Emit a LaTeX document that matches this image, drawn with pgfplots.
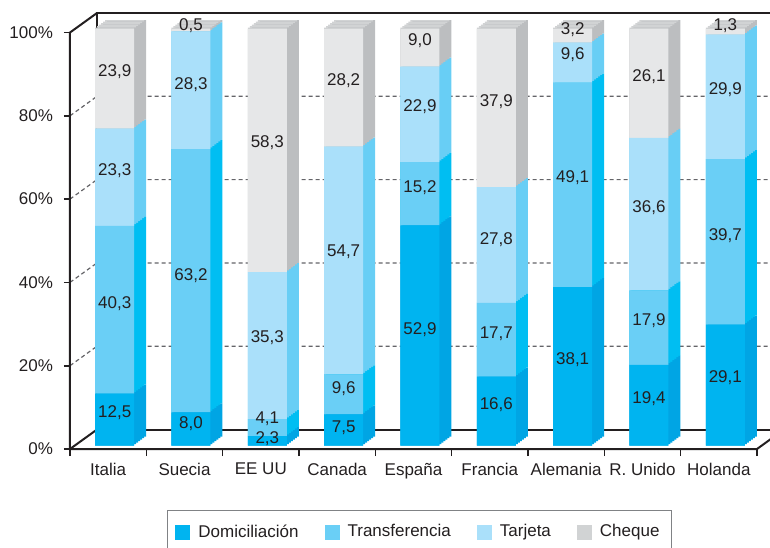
\documentclass[border=0pt]{standalone}
\usepackage{pgfplots}
\usepackage{pgfplotstable}
\pgfplotsset{compat=1.18}
\usepackage{fontspec}
\setmainfont{Liberation Sans}

\definecolor{domF}{RGB}{0,180,240}
\definecolor{domS}{RGB}{0,165,228}
\definecolor{traF}{RGB}{106,207,246}
\definecolor{traS}{RGB}{0,190,242}
\definecolor{tarF}{RGB}{170,224,250}
\definecolor{tarS}{RGB}{104,206,245}
\definecolor{cheF}{RGB}{230,231,232}
\definecolor{cheS}{RGB}{188,190,192}
\definecolor{cheT}{RGB}{209,211,212}
\definecolor{ink}{RGB}{35,31,32}
\definecolor{gridc}{RGB}{100,100,104}
\definecolor{legc}{RGB}{128,130,133}

% shares per country (%)
\pgfplotstableread{
x dom tra tar che
0 12.5 40.3 23.3 23.9
1 8.0 63.2 28.3 0.5
2 2.3 4.1 35.3 58.3
3 7.5 9.6 54.7 28.2
4 52.9 15.2 22.9 9.0
5 16.6 17.7 27.8 37.9
6 38.1 49.1 9.6 3.2
7 19.4 17.9 36.6 26.1
8 29.1 39.7 29.9 1.3
}\data

% label positions as printed in the chart
\pgfplotstableread{
x y lab
0 90.04 23,9
0 66.36 23,3
0 34.43 40,3
0 8.33 12,5
1 101.25 0,5
1 87.01 28,3
1 41.15 63,2
1 5.62 8,0
2 72.99 58,3
2 26.17 35,3
2 6.72 4,1
2 1.92 2,3
3 87.97 28,2
3 46.99 54,7
3 13.93 9,6
3 4.73 7,5
4 97.58 9,0
4 81.80 22,9
4 62.35 15,2
4 28.19 52,9
5 82.83 37,9
5 49.80 27,8
5 27.23 17,7
5 10.18 16,6
6 100.22 3,2
6 94.21 9,6
6 64.75 49,1
6 20.98 38,1
7 88.93 26,1
7 57.55 36,6
7 30.35 17,9
7 11.62 19,4
8 101.25 1,3
8 85.81 29,9
8 50.83 39,7
8 16.57 29,1
}\labels

\pgfplotsset{
  base/.style={scale only axis, width=343.5pt, height=208.25pt,
    xmin=-0.5, xmax=8.5, ymin=0, ymax=100, enlargelimits=false,
    clip=false, anchor=south west},
  bars/.style={base, hide axis, ybar stacked, bar width=19.5pt},
}

\begin{document}
\begin{tikzpicture}[font=\fontsize{8.5}{10}\selectfont]
% ---------- frame, ticks, legend ----------
\begin{axis}[base, at={(0pt,0pt)},
  axis line style={draw=none},
  xtick={0,...,8},
  xticklabels={Italia,Suecia,EE UU,Canada,España,Francia,Alemania,R. Unido,Holanda},
  minor xtick={-0.5,0.5,...,8.5},
  ytick={0,20,...,100},
  yticklabel={\pgfmathprintnumber{\tick}\%},
  xtick pos=bottom, ytick pos=left,
  tick align=outside,
  major tick length=3pt, minor tick length=3.5pt,
  every tick/.append style={ink, line width=0.8pt},
  every major x tick/.append style={draw=none},
  /pgf/number format/assume math mode=true,
  tick label style={font=\fontsize{8.5}{10}\selectfont, text=ink},
  yticklabel style={xshift=-2pt},
  xticklabel style={yshift=-0.5pt},
  legend columns=4,
  legend cell align=left,
  legend style={at={(0.5087,-0.1465)}, anchor=north, draw=legc, line width=0.5pt,
     inner xsep=4pt, inner ysep=5pt, font=\fontsize{8.5}{10}\selectfont, text=ink,
     /tikz/every odd column/.append style={column sep=2pt},
     /tikz/every even column/.append style={column sep=11pt}},
  legend image code/.code={\fill[#1, draw=none] (0pt,-3.75pt) rectangle (7.5pt,3.75pt);},
]
\draw[gridc, line width=0.6pt, dash pattern=on 2pt off 1.5pt] (axis cs:-0.5,20) -- (axis cs:-0.1463,24.68) -- (axis cs:8.8537,24.68);
\draw[gridc, line width=0.6pt, dash pattern=on 2pt off 1.5pt] (axis cs:-0.5,40) -- (axis cs:-0.1463,44.68) -- (axis cs:8.8537,44.68);
\draw[gridc, line width=0.6pt, dash pattern=on 2pt off 1.5pt] (axis cs:-0.5,60) -- (axis cs:-0.1463,64.68) -- (axis cs:8.8537,64.68);
\draw[gridc, line width=0.6pt, dash pattern=on 2pt off 1.5pt] (axis cs:-0.5,80) -- (axis cs:-0.1463,84.68) -- (axis cs:8.8537,84.68);
\draw[ink, line width=1pt] (axis cs:8.8537,104.68) -- (axis cs:-0.1463,104.68) -- (axis cs:-0.1463,4.68) -- (axis cs:8.8537,4.68);
\draw[ink, line width=1pt] (axis cs:-0.5,0) -- (axis cs:-0.1463,4.68);
\draw[ink, line width=1pt] (axis cs:-0.1463,104.68) -- (axis cs:-0.5,100) -- (axis cs:-0.5,0) -- (axis cs:8.5,0) -- (axis cs:8.8537,4.68);
\addlegendimage{fill=domF}\addlegendentry{Domiciliación}
\addlegendimage{fill=traF}\addlegendentry{Transferencia}
\addlegendimage{fill=tarF}\addlegendentry{Tarjeta}
\addlegendimage{fill=cheT}\addlegendentry{Cheque}
\end{axis}
% ---------- depth of the bars (side and top faces) ----------
\foreach \k in {6,5,4,3,2,1,0} {
\begin{axis}[bars, at={({3.25pt+\k*1pt},{1.65pt+\k*0.75pt})}]
  \addplot[fill=domS, draw=none] table[x=x,y=dom]{\data};
  \addplot[fill=traS, draw=none] table[x=x,y=tra]{\data};
  \addplot[fill=tarS, draw=none] table[x=x,y=tar]{\data};
  \addplot[fill=cheS, draw=none] table[x=x,y=che]{\data};
  \ifnum\k<6
  \addplot[fill=cheT, draw=none] coordinates {(0,0.36) (1,0.36) (2,0.36) (3,0.36) (4,0.36) (5,0.36) (6,0.36) (7,0.36) (8,0.36)};
  \fi
\end{axis}
}
% ---------- front faces ----------
\begin{axis}[bars, at={(3.25pt,1.65pt)}]
  \addplot[fill=domF, draw=none] table[x=x,y=dom]{\data};
  \addplot[fill=traF, draw=none] table[x=x,y=tra]{\data};
  \addplot[fill=tarF, draw=none] table[x=x,y=tar]{\data};
  \addplot[fill=cheF, draw=none] table[x=x,y=che]{\data};
\end{axis}
% ---------- value labels ----------
\begin{axis}[base, hide axis, at={(3.25pt,1.65pt)}]
  \addplot[only marks, mark=none, nodes near coords, point meta=explicit symbolic,
    every node near coord/.append style={anchor=base, yshift=-3.05pt, inner sep=0pt,
      font=\fontsize{8.5}{10}\selectfont, text=ink}]
    table[x=x,y=y,meta=lab]{\labels};
\end{axis}
\pgfresetboundingbox
\path[use as bounding box] (-35pt,-49pt) rectangle (350pt,224.5pt);
\end{tikzpicture}
\end{document}
